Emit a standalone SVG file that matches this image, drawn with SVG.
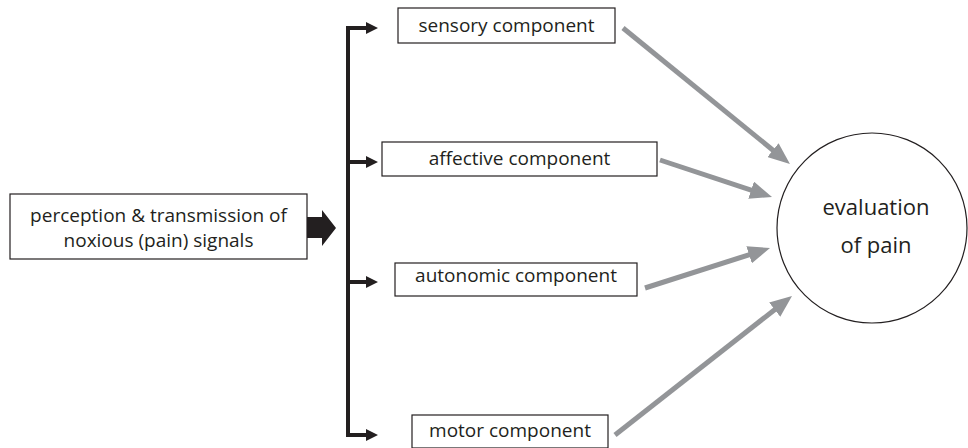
<svg xmlns="http://www.w3.org/2000/svg" width="968" height="448" viewBox="0 0 968 448">
<style>
.box{fill:#fff;stroke:#231f20;stroke-width:1.2}
.t{font-family:"Open Sans","Noto Sans",sans-serif;font-size:19px;fill:#231f20;text-anchor:middle}
.tc{font-family:"Open Sans","Noto Sans",sans-serif;font-size:22px;fill:#231f20;text-anchor:middle}
.br{fill:none;stroke:#231f20;stroke-width:4}
.bh{fill:#231f20}
.g{stroke:#939598;stroke-width:5;fill:none}
</style>
<defs>
<marker id="gh" markerUnits="userSpaceOnUse" markerWidth="22" markerHeight="18" refX="8" refY="9" orient="auto" viewBox="0 0 22 18">
<path d="M0,0 L22,9 L0,18 z" fill="#939598"/>
</marker>
</defs>
<rect width="968" height="448" fill="#fff"/>
<g id="source">
<rect class="box" x="10" y="194" width="297" height="65"/>
<text class="t" x="158.5" y="222">perception &amp; transmission of</text>
<text class="t" x="158.5" y="247">noxious (pain) signals</text>
</g>
<g id="sensory">
<rect class="box" x="398" y="8" width="217" height="35"/>
<text class="t" x="506.5" y="32">sensory component</text>
</g>
<g id="affective">
<rect class="box" x="382" y="142" width="275" height="34"/>
<text class="t" x="519.5" y="165">affective component</text>
</g>
<g id="autonomic">
<rect class="box" x="395" y="263" width="242" height="33"/>
<text class="t" x="516" y="282">autonomic component</text>
</g>
<g id="motor">
<rect class="box" x="412" y="415" width="196" height="33"/>
<text class="t" x="510" y="437">motor component</text>
</g>
<g id="evaluation">
<circle cx="872" cy="228" r="95" fill="#fff" stroke="#231f20" stroke-width="1.2"/>
<text class="tc" x="876" y="215">evaluation</text>
<text class="tc" x="876" y="253">of pain</text>
</g>
<g id="connectors">
<path class="bh" d="M307,217 H322 V210 L336,228 L322,246 V238 H307 z"/>
<path class="br" d="M368,28 H348 V435 H368"/>
<path class="br" d="M348,162 H368 M348,282 H368"/>
<path class="bh" d="M366,22 L378,28 L366,34 z M366,156 L378,162 L366,168 z M366,276 L378,282 L366,288 z M366,429 L378,435 L366,441 z"/>
<line class="g" x1="623" y1="28" x2="779.1" y2="155.2" marker-end="url(#gh)"/>
<line class="g" x1="660" y1="160" x2="758.7" y2="192.6" marker-end="url(#gh)"/>
<line class="g" x1="645" y1="288" x2="756.7" y2="252.3" marker-end="url(#gh)"/>
<line class="g" x1="615" y1="435" x2="781" y2="304.7" marker-end="url(#gh)"/>
</g>
</svg>
